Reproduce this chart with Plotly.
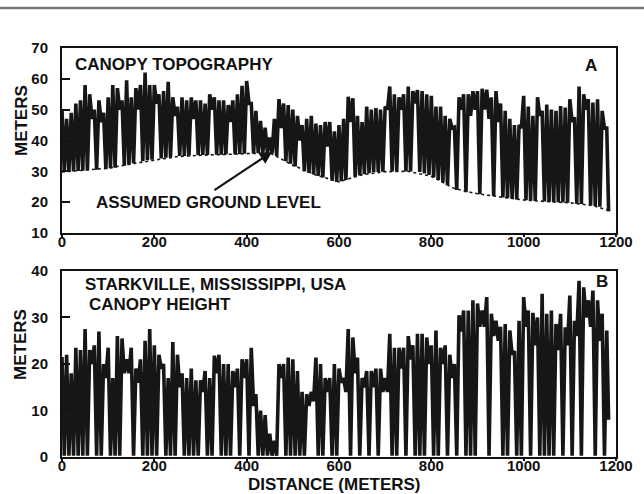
import plotly.graph_objects as go

# ---------------- data ----------------
# Panel A: canopy topography (m), sampled every 10 m (canopy returns) and
# in-between returns (ground / dip depth) at the 5 m offsets.
dist_top = list(range(0, 1190, 10))
dist_low = list(range(5, 1180, 10))

top_a = [50, 47, 49, 52, 53, 58, 55, 50, 53, 49,
         54, 58, 57, 53, 59.5, 54, 57, 58, 62, 58,
         58, 55, 56, 59, 54, 51, 54, 53, 54, 53,
         53, 52, 55, 54, 53, 53, 51.5, 53, 55, 57.7,
         59.3, 52, 49.6, 46.4, 44.2, 41, 47, 53.4, 52, 51.5,
         50, 48, 45, 47, 48, 45.5, 45, 46, 46, 43,
         45, 47, 54.2, 53.7, 48, 46, 51, 50, 50.5, 50,
         51, 57.5, 55, 54, 55, 57.5, 56, 56.4, 56, 55,
         54.5, 51, 51, 48, 47, 44.3, 54, 55, 55, 56,
         56, 56.8, 56.5, 54, 56, 52, 49.6, 47, 45, 45,
         54.5, 51, 48, 54, 49.6, 51.7, 50, 49.6, 51.2, 50.7,
         53.4, 47.5, 57.5, 55, 53.4, 52.3, 53.4, 49.6, 44]

low_a = [29.8, 30, 30, 30.1, 30.2, 30.3, 47, 30.5, 46, 30.8,
         31, 31.2, 50, 31.8, 32.2, 32.6, 50, 33.3, 33.6, 33.8,
         52, 34.2, 34.4, 34.6, 48, 35, 35, 35.1, 47, 35.2,
         35.3, 35.3, 50, 35.4, 35.4, 35.5, 46, 35.5, 35.6, 35.7,
         52, 35.8, 35.9, 36, 36, 35.8, 35, 44, 33.3, 32.5,
         31.6, 40, 30, 29.5, 29, 28.5, 28, 38, 27, 26.6,
         26.8, 27.2, 46, 28.2, 28.7, 29.1, 29.4, 29.7, 29.8, 29.9,
         50, 30, 30, 50, 30, 30, 52, 29.8, 29.3, 28.8,
         28, 27.2, 26.5, 25.5, 44, 24, 50, 23.2, 48, 50,
         22.6, 50, 47, 22, 46, 21.5, 21.3, 21.1, 20.9, 44,
         20.6, 20.5, 20.4, 48, 20.2, 20.1, 20, 20, 19.9, 19.8,
         46, 19.5, 19.4, 50, 19, 18.8, 18.5, 44]
end_a = (1184, 17)

# assumed ground level under panel A (m), every 50 m
ground_dist = [0, 50, 100, 150, 200, 250, 300, 350, 400, 450, 500, 550, 600,
               650, 700, 750, 800, 850, 900, 950, 1000, 1050, 1100, 1150, 1180]
ground_a = [29.8, 30.3, 31, 32.4, 33.6, 34.8, 35.2, 35.4, 35.7, 36, 32, 28.8, 26.6,
            28.9, 29.9, 30, 28.4, 24.4, 22.7, 21.7, 20.7, 20.2, 19.8, 18.9, 17.5]

# Panel B: canopy height (m)
top_b = [21.5, 22, 18, 23.5, 23, 27.5, 23, 24, 27, 20,
         23.5, 17, 26, 25.5, 21, 23.5, 19, 21, 25, 27.5,
         24, 22, 20, 17, 24.7, 22, 18, 17, 19, 16.5,
         16.5, 18.5, 17, 21.8, 22, 20, 20, 18.5, 19, 21,
         21, 23.5, 13.5, 10, 9, 5, 3.5, 20, 20, 21.4,
         21, 18.5, 14, 13.5, 14, 21.4, 20, 17, 17, 20,
         19, 17, 27.5, 25.7, 21.4, 17, 18.5, 18.5, 19, 19,
         17, 26.5, 23.5, 23.5, 23.5, 26, 24, 26.5, 26.5, 25.7,
         24, 27.2, 23.5, 24, 22, 20, 30.5, 31.5, 31.5, 33.7,
         33, 31.5, 34.4, 30.8, 29.3, 28, 28.6, 27.2, 22.8, 29.3,
         34.4, 31.5, 31, 30, 35.1, 30.8, 31.5, 28.6, 30.8, 27.9,
         34.7, 29.3, 37.9, 36.5, 33.7, 35.8, 33.7, 30.8, 27.2]

low_b = [0.3, 0.3, 0.3, 0.3, 0.3, 0.3, 20, 0.3, 0.3, 17,
         0.3, 0.3, 0.3, 18, 18, 0.3, 16, 0.3, 0.3, 0.3,
         0.3, 19, 0.3, 0.3, 0.3, 15, 0.3, 0.3, 0.3, 0.3,
         14, 0.3, 0.3, 18, 0.3, 0.3, 0.3, 15, 0.3, 17,
         0.3, 11, 0.3, 0.3, 0.3, 0.3, 0.3, 17, 0.3, 0.3,
         0.3, 0.3, 0.3, 11, 12, 0.3, 0.3, 14, 0.3, 0.3,
         16, 14, 0.3, 18, 0.3, 15, 0.3, 15, 0.3, 14,
         14, 0.3, 0.3, 19, 0.3, 21, 0.3, 0.3, 0.3, 20,
         0.3, 0.3, 20, 0.3, 17, 0.3, 27, 0.3, 0.3, 0.3,
         28, 28, 0.3, 26, 25, 0.3, 0.3, 22, 0.3, 0.3,
         28, 0.3, 24, 0.3, 0.3, 0.3, 0.3, 23, 0.3, 24,
         0.3, 26, 0.3, 30, 28, 0.3, 25, 0.3]
end_b = (1184, 8)

x_ticks = [0, 200, 400, 600, 800, 1000, 1200]
ya_ticks = [10, 20, 30, 40, 50, 60, 70]
yb_ticks = [0, 10, 20, 30, 40]


def profile(tops, lows, end):
    xs, ys = [], []
    for i, t in enumerate(tops):
        xs.append(dist_top[i]); ys.append(t)
        if i < len(lows):
            xs.append(dist_low[i]); ys.append(lows[i])
    xs.append(end[0]); ys.append(end[1])
    return xs, ys


xa, ya = profile(top_a, low_a, end_a)
xb, yb = profile(top_b, low_b, end_b)

INK = "#161616"
FONT = "Liberation Sans, Arial, sans-serif"

fig = go.Figure()
fig.add_trace(go.Scatter(x=ground_dist, y=ground_a, mode="lines", xaxis="x", yaxis="y",
                         line=dict(color=INK, width=1.6, dash="dot"), hoverinfo="skip"))
fig.add_trace(go.Scatter(x=xa, y=ya, mode="lines", xaxis="x", yaxis="y",
                         line=dict(color=INK, width=3.6), hoverinfo="skip"))
fig.add_trace(go.Scatter(x=xb, y=yb, mode="lines", xaxis="x2", yaxis="y2",
                         line=dict(color=INK, width=3.6), hoverinfo="skip"))

tickfont = dict(family=FONT, size=15, color="#111", weight="bold")
common_x = dict(range=[0, 1200], tickvals=x_ticks, ticktext=[str(v) for v in x_ticks],
                showgrid=False, zeroline=False, showline=True, mirror=True,
                linecolor="#111", linewidth=2, ticks="outside", ticklen=2,
                tickwidth=1.5, tickcolor="#111", tickfont=tickfont,
                ticklabelstandoff=-8)
common_y = dict(showgrid=False, zeroline=False, showline=True, mirror=True,
                linecolor="#111", linewidth=2, ticks="inside", ticklen=8,
                tickwidth=1.5, tickcolor="#111", tickfont=tickfont,
                ticklabelstandoff=9)

fig.update_layout(
    width=644, height=494,
    margin=dict(l=62, r=28, t=48, b=37),
    paper_bgcolor="white", plot_bgcolor="white",
    showlegend=False,
    xaxis=dict(domain=[0, 1], anchor="y", **common_x),
    yaxis=dict(domain=[0.5477, 1.0], anchor="x", range=[10, 70],
               tickvals=ya_ticks, ticktext=[str(v) for v in ya_ticks], **common_y),
    xaxis2=dict(domain=[0, 1], anchor="y2", **common_x),
    yaxis2=dict(domain=[0, 0.4548], anchor="x2", range=[0, 40],
                tickvals=yb_ticks, ticktext=[str(v) for v in yb_ticks], **common_y),
)

tfont = dict(family=FONT, size=17, color="#111", weight="bold")
ann = [
    dict(x=24, y=64.8, xref="x", yref="y", text="CANOPY TOPOGRAPHY",
         xanchor="left", yanchor="middle", showarrow=False, font=tfont),
    dict(x=1146, y=64.2, xref="x", yref="y", text="A",
         xanchor="center", yanchor="middle", showarrow=False, font=tfont),
    dict(x=318, y=19.9, xref="x", yref="y", text="ASSUMED GROUND LEVEL",
         xanchor="center", yanchor="middle", showarrow=False, font=tfont),
    dict(x=455, y=36.3, xref="x", yref="y", ax=327, ay=23.6, axref="x", ayref="y",
         text="", showarrow=True, arrowhead=2, arrowsize=1.1, arrowwidth=2.2,
         arrowcolor="#111"),
    dict(x=45, y=37.2, xref="x2", yref="y2", text="STARKVILLE, MISSISSIPPI, USA",
         xanchor="left", yanchor="middle", showarrow=False, font=tfont),
    dict(x=54, y=32.9, xref="x2", yref="y2", text="CANOPY HEIGHT",
         xanchor="left", yanchor="middle", showarrow=False, font=tfont),
    dict(x=1170, y=37.7, xref="x2", yref="y2", text="B",
         xanchor="center", yanchor="middle", showarrow=False, font=tfont),
    dict(x=0.491, y=-0.068, xref="paper", yref="paper", text="DISTANCE (METERS)",
         xanchor="center", yanchor="middle", showarrow=False, font=tfont),
    dict(x=-0.074, y=0.8215, xref="paper", yref="paper", text="METERS",
         textangle=-90, xanchor="center", yanchor="middle", showarrow=False, font=tfont),
    dict(x=-0.074, y=0.274, xref="paper", yref="paper", text="METERS",
         textangle=-90, xanchor="center", yanchor="middle", showarrow=False, font=tfont),
]
fig.update_layout(annotations=ann)

fig.add_shape(type="line", xref="paper", yref="paper", x0=-0.12, x1=1.06,
              y0=1.098, y1=1.098, line=dict(color="#7a7a7a", width=2.5))

fig.write_html("out.html")
